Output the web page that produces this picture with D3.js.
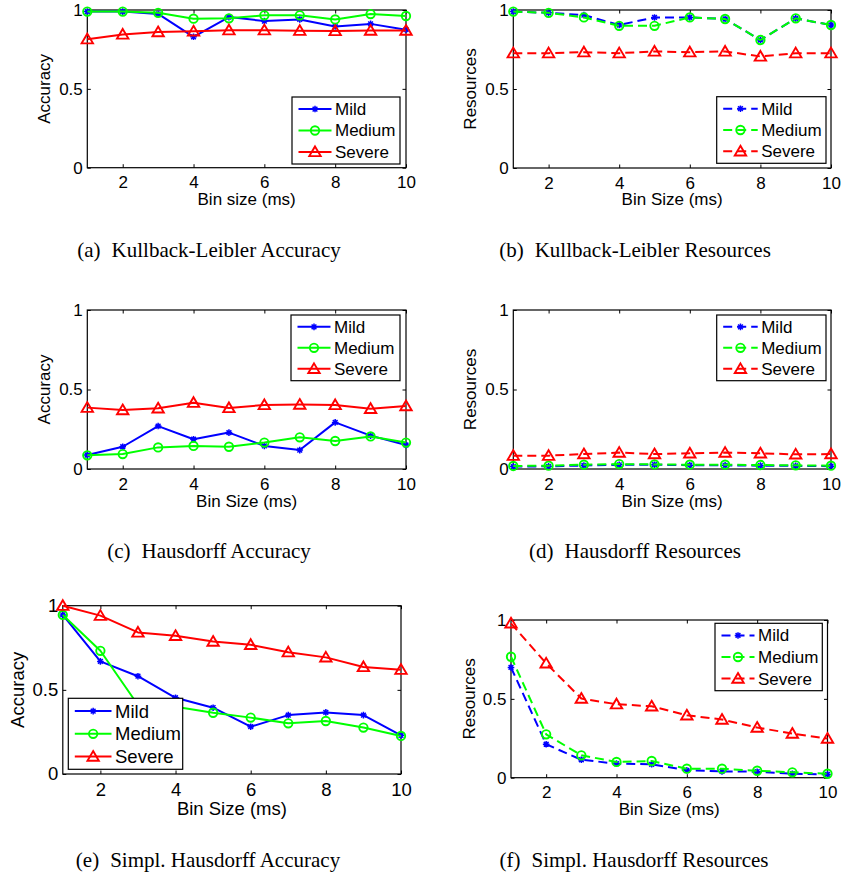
<!DOCTYPE html>
<html><head><meta charset="utf-8">
<script src="https://cdn.jsdelivr.net/npm/d3@7"></script>
<style>
html,body{margin:0;padding:0;background:#fff;}
svg{display:block;}
text{font-family:"Liberation Sans",Arial,sans-serif;}
.cap{font-family:"Liberation Serif","Times New Roman",serif;}
</style></head>
<body><svg id="c" width="844" height="876"></svg>
<script>
// ---------- data ----------
const binSizes = [1,2,3,4,5,6,7,8,9,10];
const xTickValues = [2,4,6,8,10];
const yTickValues = [0,0.5,1];
const seriesNames = ["Mild","Medium","Severe"];

// (a) Kullback-Leibler Accuracy
const klAccMild   = [0.99,0.99,0.975,0.83,0.955,0.93,0.94,0.895,0.912,0.875];
const klAccMedium = [0.99,0.99,0.982,0.945,0.947,0.966,0.966,0.94,0.974,0.962];
const klAccSevere = [0.815,0.845,0.86,0.865,0.872,0.872,0.869,0.867,0.87,0.87];
// (b) Kullback-Leibler Resources
const klResMild   = [0.99,0.982,0.968,0.905,0.953,0.953,0.943,0.81,0.947,0.905];
const klResMedium = [0.99,0.982,0.953,0.90,0.90,0.953,0.943,0.81,0.947,0.905];
const klResSevere = [0.727,0.727,0.733,0.727,0.738,0.733,0.738,0.706,0.727,0.727];
// (c) Hausdorff Accuracy
const hAccMild   = [0.088,0.140,0.270,0.187,0.229,0.145,0.119,0.293,0.210,0.151];
const hAccMedium = [0.086,0.094,0.136,0.145,0.140,0.166,0.199,0.176,0.205,0.166];
const hAccSevere = [0.386,0.371,0.382,0.417,0.384,0.403,0.405,0.403,0.379,0.396];
// (d) Hausdorff Resources
const hResMild   = [0.015,0.017,0.022,0.026,0.027,0.024,0.023,0.021,0.020,0.018];
const hResMedium = [0.019,0.021,0.027,0.031,0.029,0.027,0.027,0.025,0.023,0.021];
const hResSevere = [0.084,0.084,0.094,0.103,0.094,0.099,0.103,0.099,0.092,0.094];
// (e) Simpl. Hausdorff Accuracy
const shAccMild   = [0.945,0.669,0.581,0.453,0.394,0.281,0.350,0.366,0.350,0.230];
const shAccMedium = [0.945,0.732,0.41,0.40,0.364,0.335,0.301,0.315,0.276,0.226];
const shAccSevere = [1.0,0.941,0.841,0.821,0.787,0.768,0.724,0.693,0.636,0.620];
// (f) Simpl. Hausdorff Resources
const shResMild   = [0.699,0.212,0.114,0.089,0.085,0.047,0.040,0.038,0.025,0.021];
const shResMedium = [0.767,0.275,0.142,0.100,0.106,0.057,0.057,0.044,0.034,0.025];
const shResSevere = [0.979,0.725,0.502,0.466,0.453,0.396,0.369,0.318,0.280,0.248];

// ---------- layout / style ----------
const colors = ["#0000ff","#00ff00","#ff0000"];
const markers = ["star","circle","triangle"];
const panels = [
  {tag:"(a)",title:"Kullback-Leibler Accuracy",ylab:"Accuracy",xlab:"Bin size (ms)",data:[klAccMild,klAccMedium,klAccSevere],dashed:false,
   box:[87.3,406,10,167.7],leg:[292,97,108,67],ylx:50,capx:209,capy:256.7,fs:17,tb:20.7,xl:37.1,lt:43},
  {tag:"(b)",title:"Kullback-Leibler Resources",ylab:"Resources",xlab:"Bin Size (ms)",data:[klResMild,klResMedium,klResSevere],dashed:true,
   box:[513.3,831,10,168],leg:[716.7,96.7,109.3,66.6],ylx:475.5,capx:635,capy:256.7,fs:17,tb:20.7,xl:37.1,lt:44.5},
  {tag:"(c)",title:"Hausdorff Accuracy",ylab:"Accuracy",xlab:"Bin Size (ms)",data:[hAccMild,hAccMedium,hAccSevere],dashed:false,
   box:[87.3,406,310,469],leg:[291,315,109,65.7],ylx:50,capx:209,capy:558.3,fs:17,tb:20.5,xl:38,lt:43},
  {tag:"(d)",title:"Hausdorff Resources",ylab:"Resources",xlab:"Bin Size (ms)",data:[hResMild,hResMedium,hResSevere],dashed:true,
   box:[513.3,831,310,469],leg:[716.7,315,109.3,65.7],ylx:475.5,capx:635,capy:558.3,fs:17,tb:20.5,xl:38,lt:44.5},
  {tag:"(e)",title:"Simpl. Hausdorff Accuracy",ylab:"Accuracy",xlab:"Bin Size (ms)",data:[shAccMild,shAccMedium,shAccSevere],dashed:false,
   box:[62.8,401,605.7,774],leg:[68.3,698.3,114.4,71],ylx:24,capx:208,capy:867.3,fs:18.5,tb:22,xl:41,lt:46.7},
  {tag:"(f)",title:"Simpl. Hausdorff Resources",ylab:"Resources",xlab:"Bin Size (ms)",data:[shResMild,shResMedium,shResSevere],dashed:true,
   box:[511,827.5,620,777.7],leg:[715,623.3,107.3,67.4],ylx:474.5,capx:634,capy:867.3,fs:17,tb:20.3,xl:37.3,lt:43}
];

const svg = d3.select("#c");

function drawMarker(g, type, cx, cy, color){
  if(type==="star"){
    const r=3.3, k=r*0.72;
    g.append("path").attr("d",`M${cx-r},${cy}H${cx+r}M${cx},${cy-r}V${cy+r}M${cx-k},${cy-k}L${cx+k},${cy+k}M${cx-k},${cy+k}L${cx+k},${cy-k}`)
      .attr("stroke",color).attr("stroke-width",1.5).attr("fill","none");
  } else if(type==="circle"){
    g.append("circle").attr("cx",cx).attr("cy",cy).attr("r",4.2).attr("fill","none").attr("stroke",color).attr("stroke-width",1.9);
  } else {
    g.append("path").attr("d",`M${cx},${cy-5.5}L${cx+5.7},${cy+4.2}L${cx-5.7},${cy+4.2}Z`)
      .attr("fill","none").attr("stroke",color).attr("stroke-width",1.9).attr("stroke-linejoin","miter");
  }
}

panels.forEach(p=>{
  const [x0,x1,y0,y1] = p.box;
  const FS = p.fs;
  const x = d3.scaleLinear().domain([1,10]).range([x0,x1]);
  const y = d3.scaleLinear().domain([0,1]).range([y1,y0]);
  const g = svg.append("g");

  g.append("rect").attr("x",x0).attr("y",y0).attr("width",x1-x0).attr("height",y1-y0)
    .attr("fill","#fff").attr("stroke","#000").attr("stroke-width",1.2);

  const ab = g.append("g").attr("transform",`translate(0,${y1})`)
    .call(d3.axisBottom(x).tickValues(xTickValues).tickSize(-3.5).tickPadding(p.tb-0.71*FS).tickFormat(d3.format("d")));
  const at = g.append("g").attr("transform",`translate(0,${y0})`)
    .call(d3.axisTop(x).tickValues(xTickValues).tickSize(-3.5).tickFormat(""));
  const al = g.append("g").attr("transform",`translate(${x0},0)`)
    .call(d3.axisLeft(y).tickValues(yTickValues).tickSize(-3.5).tickPadding(4.5).tickFormat(d3.format("")));
  const ar = g.append("g").attr("transform",`translate(${x1},0)`)
    .call(d3.axisRight(y).tickValues(yTickValues).tickSize(-3.5).tickFormat(""));
  [ab,at,al,ar].forEach(a=>{
    a.select(".domain").remove();
    a.selectAll("line").attr("stroke","#000").attr("stroke-width",1);
    a.selectAll("text").attr("font-size",FS).attr("font-family","Liberation Sans, Arial, sans-serif").attr("fill","#000");
  });

  g.append("text").attr("x",(x0+x1)/2).attr("y",y1+p.xl).attr("text-anchor","middle")
    .attr("font-size",FS).text(p.xlab);
  g.append("text").attr("transform",`translate(${p.ylx},${(y0+y1)/2}) rotate(-90)`).attr("text-anchor","middle")
    .attr("font-size",FS).text(p.ylab);

  const line = d3.line().x((d,i)=>x(binSizes[i])).y(d=>y(d));
  p.data.forEach((vals,si)=>{
    const sg = g.append("g");
    sg.append("path").attr("d",line(vals)).attr("fill","none").attr("stroke",colors[si])
      .attr("stroke-width",2).attr("stroke-dasharray",p.dashed?"9,5":null).attr("stroke-linejoin","round");
    vals.forEach((v,i)=>drawMarker(sg,markers[si],x(binSizes[i]),y(v),colors[si]));
  });

  const [lx,ly,lw,lh] = p.leg;
  const lg = g.append("g");
  lg.append("rect").attr("x",lx).attr("y",ly).attr("width",lw).attr("height",lh)
    .attr("fill","#fff").attr("stroke","#000").attr("stroke-width",1.2);
  const rows=[0.18,0.5,0.82];
  seriesNames.forEach((nm,si)=>{
    const ry = ly+lh*rows[si];
    const le = lx+p.lt-3.5;
    lg.append("line").attr("x1",lx+6.5).attr("x2",le).attr("y1",ry).attr("y2",ry)
      .attr("stroke",colors[si]).attr("stroke-width",2).attr("stroke-dasharray",p.dashed?"9,5":null);
    drawMarker(lg,markers[si],(lx+6.5+le)/2,ry,colors[si]);
    lg.append("text").attr("x",lx+p.lt).attr("y",ry).attr("dy","0.35em").attr("font-size",FS).text(nm);
  });

  const cap = svg.append("text").attr("class","cap").attr("y",p.capy).attr("font-size",21);
  cap.append("tspan").text(p.tag);
  cap.append("tspan").attr("dx",11).text(p.title);
  const w = cap.node().getComputedTextLength()+11;
  cap.attr("x",p.capx-w/2);
});
</script></body></html>
